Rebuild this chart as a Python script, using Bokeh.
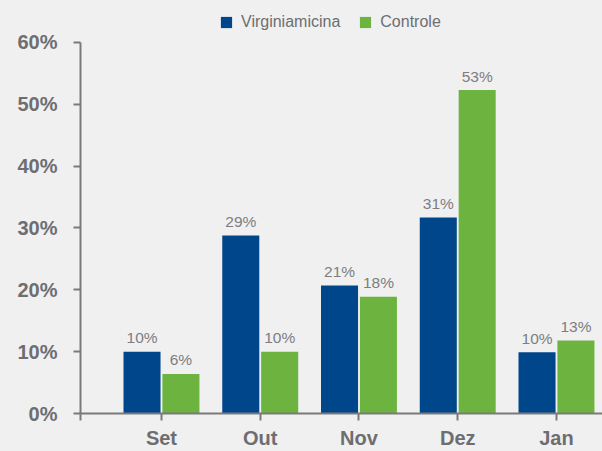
import numpy as np
from bokeh.plotting import figure
from bokeh.models import (Range1d, FixedTicker, PrintfTickFormatter, Legend, LegendItem,
                          GlobalInlineStyleSheet)
from bokeh.core.properties import value
from bokeh.embed import file_html
from bokeh.resources import INLINE

# ---- data ----
months = ["Set", "Out", "Nov", "Dez", "Jan"]
virginiamicina = [10.0, 28.8, 20.7, 31.7, 9.9]
controle = [6.4, 10.0, 18.9, 52.3, 11.8]
virginiamicina_labels = ["10%", "29%", "21%", "31%", "10%"]
controle_labels = ["6%", "10%", "18%", "53%", "13%"]
y_ticks = [0, 10, 20, 30, 40, 50, 60]

BG = "#f0f0f0"
BLUE = "#00468b"
GREEN = "#6db33f"
AXIS = "#7a7a7c"
TICK_TXT = "#6d6e71"
LBL_TXT = "#7d7d80"
FONT = "Liberation Sans"

idx = np.arange(len(months))
off = 0.197
bw = 0.375
x_start, x_end = -0.82, 4.466
y_axis_max = 60
y_view_max = 66.79   # leaves room above the axis for the legend

p = figure(width=602, height=451, output_backend="svg", toolbar_location=None,
           x_range=Range1d(x_start, x_end), y_range=Range1d(0, y_view_max),
           min_border_left=80, min_border_right=0, min_border_top=0, min_border_bottom=38,
           background_fill_color=BG, border_fill_color=BG, outline_line_color=None)

r1 = p.vbar(x=idx - off, top=virginiamicina, width=bw, fill_color=BLUE, line_color=None)
r2 = p.vbar(x=idx + off, top=controle, width=bw, fill_color=GREEN, line_color=None)

p.text(x=idx - off, y=virginiamicina, text=virginiamicina_labels, text_align="center",
       text_baseline="alphabetic", y_offset=-14, text_font_size="15.5px",
       text_color=LBL_TXT, text_font=value(FONT))
p.text(x=idx + off, y=controle, text=controle_labels, text_align="center",
       text_baseline="alphabetic", y_offset=-14, text_font_size="15.5px",
       text_color=LBL_TXT, text_font=value(FONT))

p.xgrid.grid_line_color = None
p.ygrid.grid_line_color = None

for ax in (p.xaxis[0], p.yaxis[0]):
    ax.axis_line_color = AXIS
    ax.axis_line_width = 2
    ax.major_tick_line_color = AXIS
    ax.major_tick_line_width = 2
    ax.major_tick_in = 0
    ax.major_tick_out = 7
    ax.minor_tick_line_color = None
    ax.major_label_text_font = FONT
    ax.major_label_text_font_style = "bold"
    ax.major_label_text_font_size = "20px"
    ax.major_label_text_color = TICK_TXT

p.yaxis.major_label_standoff = 16
p.xaxis.major_label_standoff = 6
p.yaxis.bounds = (0, y_axis_max)

p.yaxis.ticker = FixedTicker(ticks=y_ticks)
p.yaxis.formatter = PrintfTickFormatter(format="%d%%")
p.xaxis.ticker = FixedTicker(ticks=[x_start] + [int(i) for i in idx])
overrides = {int(i): m for i, m in zip(idx, months)}
overrides[x_start] = ""
p.xaxis.major_label_overrides = overrides

legend = Legend(items=[LegendItem(label="Virginiamicina", renderers=[r1]),
                       LegendItem(label="Controle", renderers=[r2])],
                orientation="horizontal", location=(139, 382),
                border_line_color=None, background_fill_alpha=0,
                padding=0, margin=0, spacing=18, label_standoff=8,
                glyph_width=14, glyph_height=14, label_height=14,
                label_text_font=FONT, label_text_font_size="16px",
                label_text_color=TICK_TXT)
p.add_layout(legend)

p.stylesheets = [GlobalInlineStyleSheet(css="body{background:#f0f0f0;}")]

open("out.html", "w").write(file_html(p, INLINE))
